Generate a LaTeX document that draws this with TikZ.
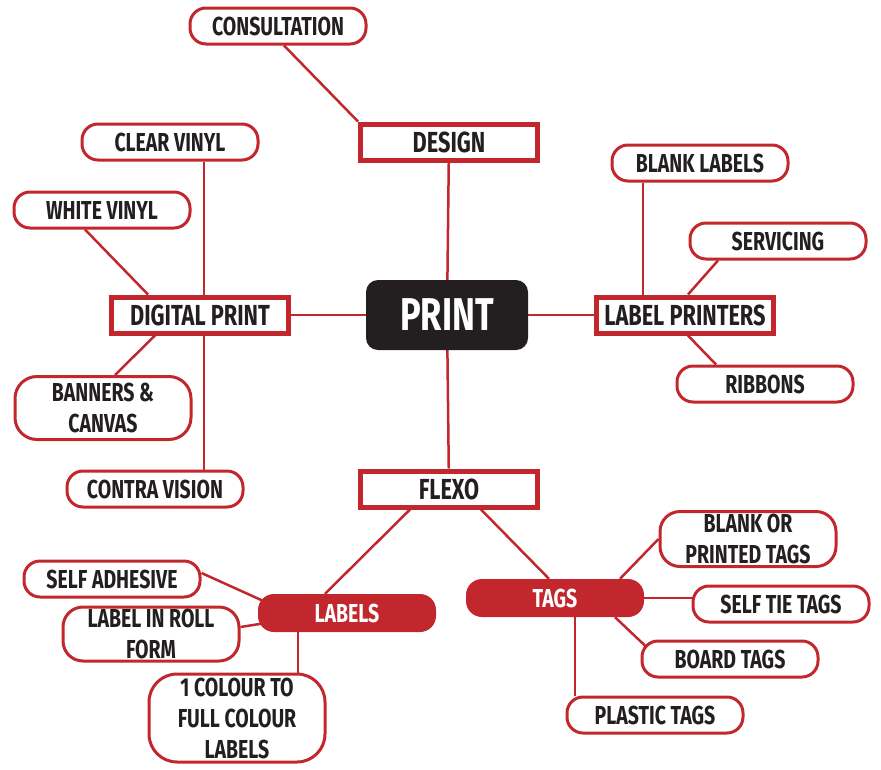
\documentclass[tikz,border=0pt]{standalone}
\usepackage{fontspec}
\newfontfamily\mapfont[FakeStretch=0.75]{Fira Sans}
\usetikzlibrary{backgrounds,calc}
\definecolor{mapred}{HTML}{C1272D}
\definecolor{mapdark}{HTML}{231F20}
\tikzset{
  mapfont/.style={font=\mapfont\bfseries\fontsize{26}{31}\selectfont},
  branch/.style={font=\mapfont\bfseries\fontsize{29}{31}\selectfont,draw=mapred,line width=5pt,fill=white,text=mapdark,minimum width=177pt,minimum height=36pt,inner sep=0pt},
  leaf/.style={mapfont,draw=mapred,line width=3pt,rounded corners=16pt,fill=white,text=mapdark,minimum width=176pt,minimum height=36pt,inner sep=0pt,align=center},
  hub/.style={mapfont,fill=mapred,rounded corners=16pt,text=white,minimum width=178pt,minimum height=38pt,inner sep=0pt},
  link/.style={draw=mapred,line width=2.5pt}
}
\begin{document}
\begin{tikzpicture}[x=1pt,y=-1pt]
\useasboundingbox (0,0) rectangle (881,769);
% centre
\node[fill=mapdark,rounded corners=12pt,text=white,minimum width=162pt,minimum height=70pt,font=\mapfont\bfseries\fontsize{46}{50}\selectfont] (print) at (447,315) {PRINT};
% main branches
\node[branch] (design) at (449,142) {DESIGN};
\node[branch] (digital) at (200,315) {DIGITAL PRINT};
\node[branch] (labelprinters) at (685,315) {LABEL PRINTERS};
\node[branch] (flexo) at (449,489) {FLEXO};
% design
\node[leaf] (consult) at (278,26) {CONSULTATION};
% digital print
\node[leaf] (clearvinyl) at (170,142) {CLEAR VINYL};
\node[leaf] (whitevinyl) at (102,210) {WHITE VINYL};
\node[leaf,minimum height=63pt,rounded corners=22pt] (banners) at (103,408) {BANNERS \&\\CANVAS};
\node[leaf] (contra) at (155,489) {CONTRA VISION};
% label printers
\node[leaf] (blanklabels) at (700,163) {BLANK LABELS};
\node[leaf] (servicing) at (778,241) {SERVICING};
\node[leaf] (ribbons) at (765,384) {RIBBONS};
% flexo
\node[hub] (labels) at (347,613) {LABELS};
\node[hub] (tags) at (555,598) {TAGS};
\node[leaf] (selfadhesive) at (112,579) {SELF ADHESIVE};
\node[leaf,minimum height=54pt,rounded corners=20pt] (labelroll) at (151,634) {LABEL IN ROLL\\FORM};
\node[leaf,minimum height=88pt,rounded corners=28pt] (colour) at (237,718) {1 COLOUR TO\\FULL COLOUR\\LABELS};
\node[leaf,minimum height=55pt,rounded corners=20pt] (blanktags) at (748,539) {BLANK OR\\PRINTED TAGS};
\node[leaf] (selftie) at (781,604) {SELF TIE TAGS};
\node[leaf] (board) at (730,659) {BOARD TAGS};
\node[leaf] (plastic) at (655,715) {PLASTIC TAGS};
% connectors
\begin{scope}[on background layer]
\draw[link] (design) -- (print);
\draw[link] (print) -- (digital);
\draw[link] (print) -- (labelprinters);
\draw[link] (print) -- (flexo);
\draw[link] ($(consult.south)+(6,0)$) -- (design.north west);
\draw[link] ($(clearvinyl.south)+(34,0)$) coordinate (cv) -- (cv |- contra.north);
\draw[link] ($(whitevinyl.south)+(-17,0)$) -- ($(digital.north)+(-52,0)$);
\draw[link] ($(digital.south)+(-45,0)$) -- ($(banners.north)+(12,0)$);
\draw[link] ($(blanklabels.south)+(-57,0)$) coordinate (bl) -- (bl |- labelprinters.north);
\draw[link] ($(servicing.south)+(-60,0)$) -- ($(labelprinters.north)+(3,0)$);
\draw[link] ($(labelprinters.south)+(3,0)$) -- ($(ribbons.north)+(-49,0)$);
\draw[link] ($(flexo.south)+(-39,0)$) -- ($(labels.north)+(-22,0)$);
\draw[link] ($(flexo.south)+(32,0)$) -- ($(tags.north)+(-6,0)$);
\draw[link] ($(selfadhesive.east)+(0,-6)$) -- ($(labels.west)+(10,-10)$);
\draw[link] ($(labelroll.east)+(0,-7)$) -- ($(labels.west)+(8,10)$);
\draw[link] ($(labels.south)+(-49,0)$) coordinate (lc) -- (lc |- colour.north);
\draw[link] ($(tags.north)+(65,0)$) -- (blanktags.west);
\draw[link] (tags.east) -- (tags.east -| selftie.west);
\draw[link] ($(tags.south)+(60,0)$) -- ($(board.west)+(6,-12)$);
\draw[link] ($(tags.south)+(20,0)$) coordinate (tp) -- (tp |- plastic.north);
\end{scope}
\end{tikzpicture}
\end{document}
